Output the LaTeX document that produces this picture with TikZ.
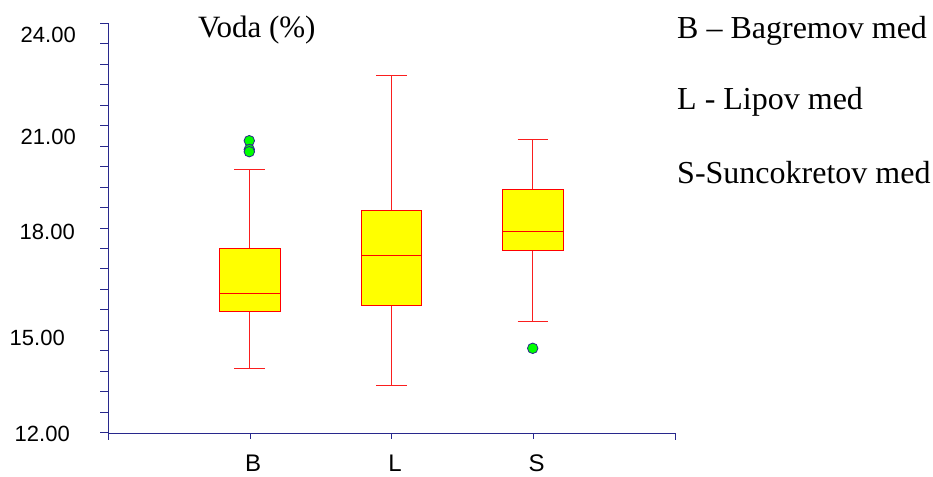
\documentclass[tikz,border=0pt]{standalone}
\usepackage{fontspec}
\setmainfont{Liberation Serif}
\newfontfamily\arialfont{Liberation Sans}
\definecolor{axisnavy}{RGB}{40,40,140}
\definecolor{boxyellow}{RGB}{255,255,0}
\definecolor{dotgreen}{RGB}{0,255,0}
\definecolor{whiskred}{RGB}{250,30,30}
\begin{document}
\begin{tikzpicture}[x=1pt,y=-1pt,
  axisline/.style={draw=axisnavy,line width=1pt},
  tickline/.style={draw=axisnavy,line width=1pt},
  ticklabel/.style={anchor=east,inner sep=0pt,font=\arialfont\fontsize{22}{26}\selectfont},
  catlabel/.style={anchor=base,inner sep=0pt,font=\arialfont\fontsize{24}{26}\selectfont},
  legendtext/.style={anchor=base west,inner sep=0pt,font=\fontsize{32}{36}\selectfont},
  boxrect/.style={draw=red,fill=boxyellow,line width=1pt},
  whisker/.style={draw=whiskred,line width=1pt},
  outlier/.style={circle,draw=axisnavy,fill=dotgreen,line width=0.8pt,minimum size=10.5pt,inner sep=0pt}
]
\useasboundingbox (0,0) rectangle (933,476);
% axes
\draw[axisline] (108,23.5) -- (108,440);
\draw[axisline] (108,433) -- (675,433) -- (675,440);
\foreach \i in {0,...,20}{
  \draw[tickline] (100,{23.5+\i*20.45}) -- (108,{23.5+\i*20.45});
}
\foreach \xx in {250,391.7,533.3}{
  \draw[tickline] (\xx,433) -- (\xx,439);
}
% tick labels
\node[ticklabel] (t24) at (76,34.5) {24.00};
\node[ticklabel] (t21) at (76,137) {21.00};
\node[ticklabel] (t18) at (75,232) {18.00};
\node[ticklabel] (t15) at (65,338) {15.00};
\node[ticklabel] (t12) at (70,434) {12.00};
% category labels
\node[catlabel] (cB) at (253,471.5) {B};
\node[catlabel] (cL) at (395,471.5) {L};
\node[catlabel] (cS) at (536.5,471.5) {S};
% title and legend
\node[legendtext,font=\fontsize{31}{34}\selectfont] (title) at (198,38) {Voda (\%)};
\node[legendtext] (legB) at (677,39) {B -- Bagremov med};
\node[legendtext] (legL) at (677,110) {L - Lipov med};
\node[legendtext] (legS) at (677,183) {S-Suncokretov med};
% box B
\draw[whisker] (249.3,169.3) -- (249.3,248.7);
\draw[whisker] (249.3,311.7) -- (249.3,368.3);
\draw[whisker] (234.3,169.3) -- (265,169.3);
\draw[whisker] (234.3,368.3) -- (265,368.3);
\draw[boxrect] (219.3,248.7) rectangle (280,311.7);
\draw[draw=red,line width=1pt] (219.3,293.3) -- (280,293.3);
\node[outlier] (oB1) at (249.3,140.7) {};
\node[outlier] (oB2) at (249.3,149.5) {};
\node[outlier] (oB3) at (249.3,151.7) {};
% box L
\draw[whisker] (391.7,75.7) -- (391.7,210.7);
\draw[whisker] (391.7,305) -- (391.7,385);
\draw[whisker] (376,75.7) -- (406.7,75.7);
\draw[whisker] (376,385) -- (406.7,385);
\draw[boxrect] (361,210.7) rectangle (421.7,305);
\draw[draw=red,line width=1pt] (361,255) -- (421.7,255);
% box S
\draw[whisker] (532.7,139) -- (532.7,189.3);
\draw[whisker] (532.7,250) -- (532.7,321.7);
\draw[whisker] (517.7,139) -- (548.3,139);
\draw[whisker] (517.7,321.7) -- (548.3,321.7);
\draw[boxrect] (502.7,189.3) rectangle (563.3,250);
\draw[draw=red,line width=1pt] (502.7,231.7) -- (563.3,231.7);
\node[outlier] (oS1) at (532.7,348.3) {};
\end{tikzpicture}
\end{document}
